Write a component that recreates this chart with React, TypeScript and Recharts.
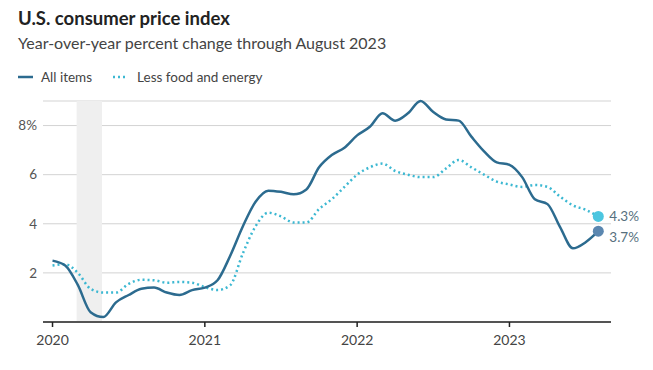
import React from "react";
import { LineChart, Line, XAxis, YAxis, CartesianGrid, ReferenceArea } from "recharts";

const years = ["2020", "2021", "2022", "2023"];
const allItems = [
  2.5, 2.3, 1.5, 0.4, 0.2, 0.8, 1.1, 1.35, 1.4, 1.2, 1.1, 1.3,
  1.4, 1.7, 2.7, 3.9, 4.9, 5.35, 5.3, 5.2, 5.4, 6.3, 6.8, 7.1,
  7.6, 7.95, 8.5, 8.2, 8.5, 9.0, 8.55, 8.25, 8.2, 7.55, 6.95, 6.5,
  6.4, 5.9, 5.0, 4.8, 3.85, 3.0, 3.25, 3.7,
];
const core = [
  2.3, 2.35, 2.0, 1.35, 1.2, 1.2, 1.55, 1.72, 1.7, 1.6, 1.63, 1.6,
  1.42, 1.3, 1.5, 2.8, 3.9, 4.45, 4.3, 4.05, 4.05, 4.6, 5.0, 5.5,
  6.0, 6.3, 6.45, 6.15, 6.0, 5.9, 5.9, 6.25, 6.6, 6.3, 6.0, 5.72,
  5.6, 5.5, 5.58, 5.5, 5.1, 4.75, 4.57, 4.3,
];
const yTicks = [2, 4, 6, 8];
const xTicks = [0, 12, 24, 36];
const recession = [1.9, 3.9];

const data = allItems.map((v, i) => ({ m: i, all: v, core: core[i] }));
const LAST = data.length - 1;

const FONT = "Lato, 'Open Sans', sans-serif";
const DARK = "#2c6b8f";
const LIGHT = "#3cb8d2";
const LABEL = "#56707e";

const endDot = (color: string, label: string, dy: number) => (props: any) => {
  const { cx, cy, index } = props;
  if (index !== LAST) return <g key={`d${index}`} />;
  return (
    <g key={`d${index}`}>
      <circle cx={cx} cy={cy} r={5.5} fill={color} />
      <text x={cx + 11} y={cy + dy} fill={LABEL} fontSize={13.5} fontFamily={FONT} dominantBaseline="central">
        {label}
      </text>
    </g>
  );
};

export default function App() {
  return (
    <div style={{ position: "absolute", left: 0, top: 0, width: 653, height: 370, background: "#fff", fontFamily: FONT }}>
      <div style={{ position: "absolute", left: 18, top: 6.7, fontSize: 18.5, lineHeight: "22.2px", fontWeight: 700, color: "#222", whiteSpace: "nowrap" }}>
        U.S. consumer price index
      </div>
      <div style={{ position: "absolute", left: 18, top: 32.5, fontSize: 16, lineHeight: "19.2px", color: "#444", whiteSpace: "nowrap" }}>
        Year-over-year percent change through August 2023
      </div>
      <div style={{ position: "absolute", left: 18, top: 69, fontSize: 13.5, lineHeight: "16.2px", color: "#444", whiteSpace: "nowrap", display: "flex", alignItems: "center" }}>
        <svg width={16} height={10} style={{ marginRight: 7 }}>
          <line x1={0} y1={5} x2={15} y2={5} stroke={DARK} strokeWidth={2.5} />
        </svg>
        <span>All items</span>
        <svg width={16} height={10} style={{ marginLeft: 20, marginRight: 9 }}>
          <line x1={1} y1={5} x2={14} y2={5} stroke={LIGHT} strokeWidth={2.5} strokeDasharray="2 3" />
        </svg>
        <span>Less food and energy</span>
      </div>
      <div style={{ position: "absolute", left: 0, top: 0 }}>
        <LineChart width={653} height={370} data={data} margin={{ top: 101, right: 42, bottom: 0, left: 0 }}>
          <CartesianGrid vertical={false} stroke="#d3d3d3" strokeWidth={1} />
          <ReferenceArea x1={recession[0]} x2={recession[1]} y1={0} y2={9} fill="#efefef" fillOpacity={1} stroke="none" ifOverflow="hidden" />
          <XAxis
            dataKey="m"
            type="number"
            domain={[-0.75, 44]}
            ticks={xTicks}
            tickFormatter={(v: number) => years[v / 12]}
            axisLine={{ stroke: "#222", strokeWidth: 1.5 }}
            tickLine={{ stroke: "#222", strokeWidth: 1.5 }}
            tickSize={5}
            tickMargin={8}
            height={48}
            tick={{ fill: "#444", fontSize: 14, fontFamily: FONT }}
          />
          <YAxis
            type="number"
            domain={[0, 9]}
            ticks={yTicks}
            tickFormatter={(v: number) => (v === 8 ? "8%" : String(v))}
            axisLine={false}
            tickLine={false}
            tickSize={4}
            width={43}
            tick={{ fill: "#555", fontSize: 13.5, fontFamily: FONT }}
          />
          <Line
            dataKey="core"
            type="monotone"
            stroke={LIGHT}
            strokeWidth={2.5}
            strokeDasharray="2 3"
            dot={endDot("#4cc6e0", "4.3%", 0)}
            activeDot={false}
            isAnimationActive={false}
          />
          <Line
            dataKey="all"
            type="monotone"
            stroke={DARK}
            strokeWidth={2.5}
            dot={endDot("#5b87b0", "3.7%", 6)}
            activeDot={false}
            isAnimationActive={false}
          />
        </LineChart>
      </div>
    </div>
  );
}
